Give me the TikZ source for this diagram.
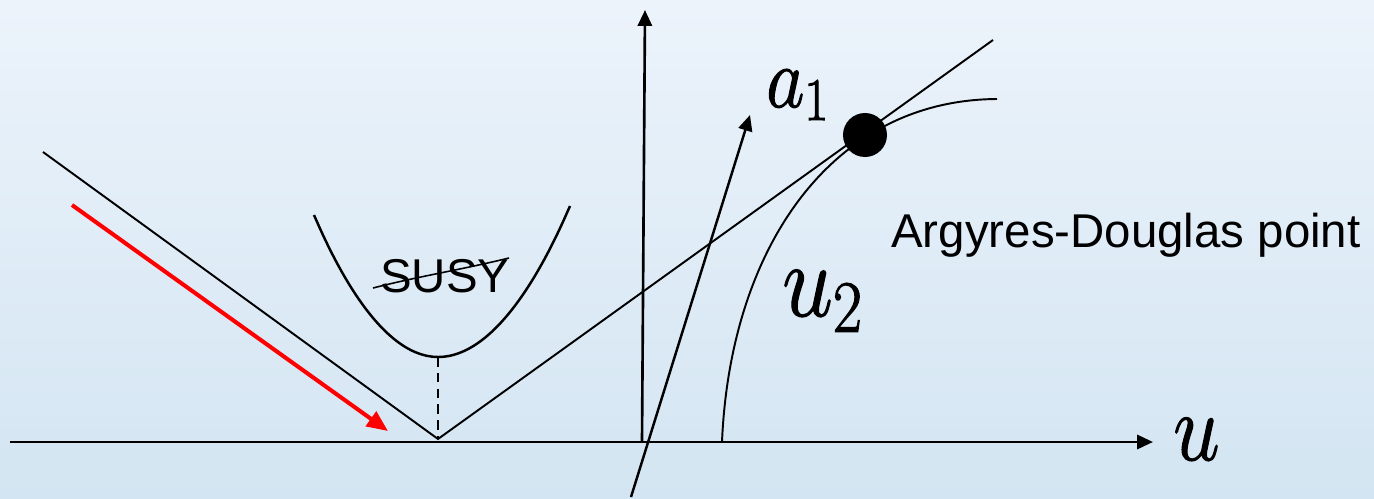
\RequirePackage{fix-cm}
\documentclass[tikz,border=0pt]{standalone}
\usepackage[no-math]{fontspec}
\usetikzlibrary{arrows.meta}
\newfontfamily\arialfont{Liberation Sans}
\definecolor{bgtop}{RGB}{236,243,251}
\definecolor{bgbottom}{RGB}{211,229,242}
\definecolor{flowred}{RGB}{255,0,0}
% heavier strokes for the big math labels
\newcommand{\bigmath}[2]{\special{pdf:literal direct 2 Tr 0.7 w}\scalebox{0.86}[1]{\fontsize{#1}{#1}\selectfont$#2$}\special{pdf:literal direct 0 Tr}}
\begin{document}
\begin{tikzpicture}[x=0.02cm, y=-0.02cm,
  axisline/.style={line width=1.6pt, -{Triangle[length=9pt,width=8pt]}},
  thinline/.style={line width=1.1pt},
  mathlabel/.style={inner sep=0pt, anchor=base west},
  textlabel/.style={inner sep=0pt, anchor=base west, font=\arialfont\fontsize{27}{30}\selectfont}]
  % background
  \shade[top color=bgtop, bottom color=bgbottom] (0,0) rectangle (1374,498);
  \useasboundingbox (0,0) rectangle (1374,498);
  % points
  \coordinate (axisL) at (10,442);
  \coordinate (axisR) at (1153,442);
  \coordinate (vaxB) at (642,442);
  \coordinate (vaxT) at (645,10);
  \coordinate (vtx) at (438,439);
  \coordinate (vL) at (43,152);
  \coordinate (vR) at (993,40);
  \coordinate (bend) at (438,357);
  \coordinate (parL) at (314,215);
  \coordinate (parR) at (570,206);
  \coordinate (aB) at (631,497);
  \coordinate (aT) at (750,115);
  \coordinate (cS) at (722,442);
  \coordinate (cE) at (997,99);
  \coordinate (flowA) at (72,205);
  \coordinate (flowB) at (388,431);
  % axes
  \draw[axisline] (axisL) -- (axisR);
  \draw[axisline, line width=1.5pt] (vaxB) -- (vaxT);
  \draw[axisline, line width=1.4pt] (aB) -- (aT);
  % moduli lines
  \draw[thinline] (vL) -- (vtx) -- (vR);
  \draw[line width=1.4pt] (parL) parabola bend (bend) (parR);
  \draw[line width=1.4pt, dash pattern=on 5.5pt off 3.5pt] (bend) -- (vtx);
  \draw[thinline] (cS) .. controls (730,250) and (830,100) .. (cE);
  % flow
  \draw[flowred, line width=2.3pt, -{Triangle[length=12pt,width=10pt]}] (flowA) -- (flowB);
  % labels
  \node[mathlabel] (ulab) at (1173,460) {\bigmath{55}{u}};
  \node[mathlabel] (a1lab) at (766,107) {\bigmath{49}{a_1}};
  \node[mathlabel] (u2lab) at (782,316) {\bigmath{60}{u_2}};
  \node[textlabel] (susy) at (380,292) {SUSY};
  \draw[line width=0.9pt] (373,288) .. controls (420,276) and (460,270) .. (509,258);
  \node[textlabel] (adlab) at (891,247) {Argyres-Douglas point};
  % AD point
  \node[circle, fill=black, inner sep=0pt, minimum size=0.88cm] (ADpt) at (865,135) {};
\end{tikzpicture}
\end{document}
